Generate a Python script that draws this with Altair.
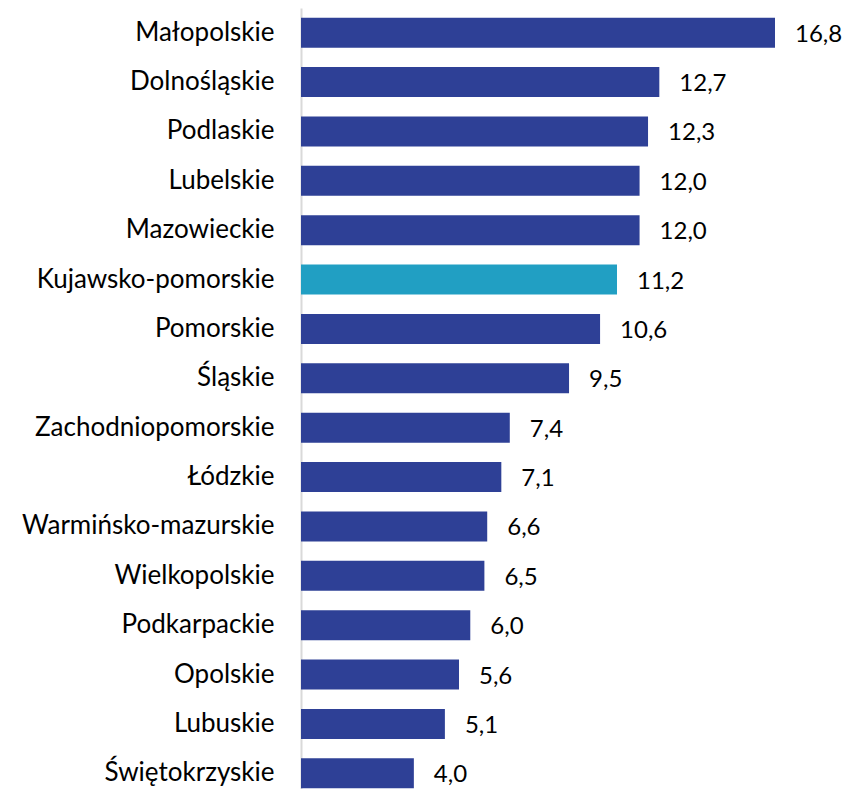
import altair as alt
import pandas as pd

regions = ["Małopolskie", "Dolnośląskie", "Podlaskie", "Lubelskie", "Mazowieckie",
           "Kujawsko-pomorskie", "Pomorskie", "Śląskie", "Zachodniopomorskie", "Łódzkie",
           "Warmińsko-mazurskie", "Wielkopolskie", "Podkarpackie", "Opolskie", "Lubuskie",
           "Świętokrzyskie"]
values = [16.8, 12.7, 12.3, 12.0, 12.0, 11.2, 10.6, 9.5, 7.4, 7.1, 6.6, 6.5, 6.0, 5.6, 5.1, 4.0]
highlight = "Kujawsko-pomorskie"

df = pd.DataFrame({"region": regions, "value": values})
df["hl"] = df["region"] == highlight

FONT = "Lato"
FS = 26

y = alt.Y("region:N", sort=regions, title=None,
          scale=alt.Scale(paddingInner=0.39, paddingOuter=0.195),
          axis=alt.Axis(ticks=False, labelPadding=27, labelFont=FONT, labelFontSize=FS,
                        labelColor="#000000", domainColor="#d9d9d9", domainWidth=2,
                        labelLimit=400))
x = alt.X("value:Q", title=None, axis=None, scale=alt.Scale(domain=[0, 19.21], nice=False))

bars = alt.Chart(df).mark_bar().encode(
    x=x, y=y,
    color=alt.Color("hl:N", legend=None,
                    scale=alt.Scale(domain=[False, True], range=["#2E4096", "#219FC3"]))
)

labels = alt.Chart(df).transform_calculate(
    lab="replace(format(datum.value, '.1f'), '.', ',')"
).mark_text(align="left", baseline="middle", dx=20, dy=2, font=FONT, fontSize=24,
            color="#000000").encode(x=x, y=y, text="lab:N")

chart = (bars + labels).properties(
    width=542, height=790,
    autosize=alt.AutoSizeParams(type="none"),
    padding={"left": 293, "top": 0, "right": 0, "bottom": 0},
).configure_view(stroke=None)

chart.save("out.html", embed_options={"renderer": "svg", "actions": False})
